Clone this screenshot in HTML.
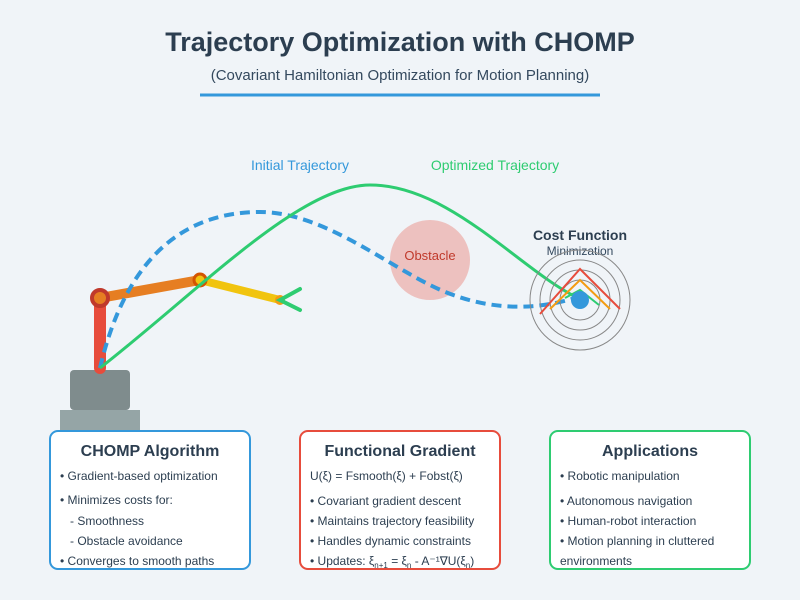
<!DOCTYPE html>
<html><head><meta charset="utf-8"><style>
html,body{margin:0;padding:0;background:#f0f4f8}
svg{display:block;font-family:"Liberation Sans",Arial,sans-serif}
</style></head><body>
<svg width="800" height="600" viewBox="0 0 800 600">
<rect width="800" height="600" fill="#f0f4f8"/>
<text x="400" y="51" text-anchor="middle" font-size="27" font-weight="bold" fill="#2c3e50">Trajectory Optimization with CHOMP</text>
<text x="400" y="80" text-anchor="middle" font-size="15" fill="#34495e">(Covariant Hamiltonian Optimization for Motion Planning)</text>
<line x1="200" y1="95" x2="600" y2="95" stroke="#3498db" stroke-width="3"/>

<text x="300" y="170" text-anchor="middle" font-size="14" fill="#3498db">Initial Trajectory</text>
<text x="495" y="170" text-anchor="middle" font-size="14" fill="#2ecc71">Optimized Trajectory</text>

<circle cx="430" cy="260" r="40" fill="#e74c3c" fill-opacity="0.3"/>
<text x="430" y="260" text-anchor="middle" font-size="13" fill="#c0392b">Obstacle</text>

<rect x="70" y="370" width="60" height="40" rx="4" fill="#7f8c8d"/>
<rect x="60" y="410" width="80" height="22" fill="#95a5a6"/>
<line x1="100" y1="368" x2="100" y2="298" stroke="#e74c3c" stroke-width="12" stroke-linecap="round"/>
<line x1="100" y1="298" x2="200" y2="280" stroke="#e67e22" stroke-width="10" stroke-linecap="round"/>
<line x1="200" y1="280" x2="280" y2="300" stroke="#f1c40f" stroke-width="8" stroke-linecap="round"/>
<circle cx="100" cy="298" r="8" fill="#e67e22" stroke="#c0392b" stroke-width="4"/>
<circle cx="200" cy="280" r="6" fill="#f1c40f" stroke="#d35400" stroke-width="3"/>
<circle cx="280" cy="300" r="5" fill="#f39c12"/>
<polyline points="300,289 280,300 300,310" fill="none" stroke="#2ecc71" stroke-width="4" stroke-linecap="round"/>

<path d="M100,368 C130,240 200,212 260,212 C320,212 380,260 430,285 C480,310 530,312 575,298" fill="none" stroke="#3498db" stroke-width="4" stroke-dasharray="10,6"/>
<path d="M100,368 C200,290 300,185 370,185 C450,185 520,270 578,298" fill="none" stroke="#2ecc71" stroke-width="3"/>

<text x="580" y="240" text-anchor="middle" font-size="14" font-weight="bold" fill="#2c3e50">Cost Function</text>
<text x="580" y="255" text-anchor="middle" font-size="12" fill="#34495e">Minimization</text>
<g fill="none" stroke="#888" stroke-width="1">
<circle cx="580" cy="300" r="20"/><circle cx="580" cy="300" r="30"/><circle cx="580" cy="300" r="40"/><circle cx="580" cy="300" r="50"/>
</g>
<polyline points="540,314 580,269 620,309" fill="none" stroke="#e74c3c" stroke-width="2"/>
<polyline points="550,309 580,280 610,309" fill="none" stroke="#f39c12" stroke-width="2"/>
<polyline points="565,298 580,290 599,305" fill="none" stroke="#2ecc71" stroke-width="2"/>
<circle cx="580" cy="300" r="9" fill="#3498db"/>

<rect x="50" y="431" width="200" height="138" rx="8" fill="#fff" stroke="#3498db" stroke-width="2"/>
<rect x="300" y="431" width="200" height="138" rx="8" fill="#fff" stroke="#e74c3c" stroke-width="2"/>
<rect x="550" y="431" width="200" height="138" rx="8" fill="#fff" stroke="#2ecc71" stroke-width="2"/>
<g font-size="16" font-weight="bold" fill="#2c3e50" text-anchor="middle">
<text x="150" y="456">CHOMP Algorithm</text>
<text x="400" y="456">Functional Gradient</text>
<text x="650" y="456">Applications</text>
</g>
<g font-size="12" fill="#2c3e50">
<text x="60" y="480">• Gradient-based optimization</text>
<text x="60" y="504">• Minimizes costs for:</text>
<text x="70" y="525">- Smoothness</text>
<text x="70" y="545">- Obstacle avoidance</text>
<text x="60" y="565">• Converges to smooth paths</text>
<text x="310" y="480">U(ξ) = Fsmooth(ξ) + Fobst(ξ)</text>
<text x="310" y="505">• Covariant gradient descent</text>
<text x="310" y="525">• Maintains trajectory feasibility</text>
<text x="310" y="545">• Handles dynamic constraints</text>
<text x="310" y="565">• Updates: ξ<tspan font-size="8" dy="3">n+1</tspan><tspan dy="-3"> = ξ</tspan><tspan font-size="8" dy="3">n</tspan><tspan dy="-3"> - A⁻¹∇U(ξ</tspan><tspan font-size="8" dy="3">n</tspan><tspan dy="-3">)</tspan></text>
<text x="560" y="480">• Robotic manipulation</text>
<text x="560" y="505">• Autonomous navigation</text>
<text x="560" y="525">• Human-robot interaction</text>
<text x="560" y="545">• Motion planning in cluttered</text>
<text x="560" y="565">environments</text>
</g>
</svg>
</body></html>
